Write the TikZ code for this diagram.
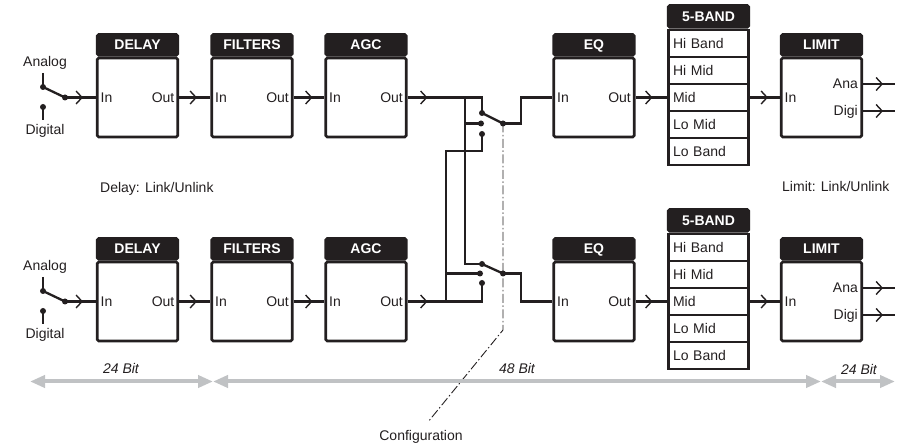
\documentclass[tikz,border=0pt]{standalone}
\usepackage{fontspec}
\setmainfont{Liberation Sans}
\usetikzlibrary{arrows.meta,decorations.markings}
\definecolor{ink}{RGB}{35,31,32}
\definecolor{garc}{RGB}{192,194,196}
\newcommand\mkblock[4]{%
  \node[body] (#1) at (#2,#3) {};
  \node[hdr,anchor=south] (#1-h) at (#1.north) {#4};
  \node[anchor=west] (#1-i) at ([xshift=4.5pt]#1.west) {In};
}
\newcommand\mkout[1]{%
  \node[anchor=east] (#1-o) at ([xshift=-4.5pt]#1.east) {Out};
}
\begin{document}
\begin{tikzpicture}[x=1pt,y=-1pt,
  every node/.style={font=\fontsize{14}{16}\selectfont, inner sep=0pt, text height=10pt, text depth=0pt, text=ink},
  body/.style={draw=ink, line width=2.6pt, minimum width=80.5pt, minimum height=79pt, rounded corners=1.5pt},
  hdr/.style={draw=ink, fill=ink, line width=2.6pt, minimum width=80.5pt, minimum height=21pt, text=white, font=\fontsize{14}{16}\selectfont\bfseries, rounded corners=1.5pt},
  cell/.style={draw=ink, line width=2.6pt, minimum height=27pt, text width=71pt, inner xsep=4.75pt, align=left},
  conn/.style={draw=ink, line width=2.3pt},
  chev/.style={postaction={decorate, decoration={markings, mark=at position #1 with {\arrow{Straight Barb[length=6pt,width=13pt,line width=1.4pt]}}}}},
  gar/.style={draw=garc, line width=4pt, {Triangle[length=15pt,width=12pt]}-{Triangle[length=15pt,width=12pt]}},
  dashdot/.style={draw=ink, line width=0.9pt, dash pattern=on 9pt off 2.5pt on 1.5pt off 2.5pt},
  pin/.style={fill=ink}
]
\useasboundingbox (0,0) rectangle (903,443);

\foreach \i/\yy in {1/97.5,2/301.5}{
  % input selector
  \node (an\i) at (45,\yy-35.5) {Analog};
  \node (dg\i) at (45,\yy+32.5) {Digital};
  \coordinate (it\i) at (43,\yy-24.5);
  \coordinate (ia\i) at (43,\yy-10.5);
  \coordinate (ic\i) at (65,\yy);
  \coordinate (id\i) at (43,\yy+9.5);
  \coordinate (ib\i) at (43,\yy+22.5);
  % blocks
  \mkblock{dl\i}{137.5}{\yy}{DELAY}\mkout{dl\i}
  \mkblock{fl\i}{252}{\yy}{FILTERS}\mkout{fl\i}
  \mkblock{ag\i}{366}{\yy}{AGC}\mkout{ag\i}
  \mkblock{eq\i}{594}{\yy}{EQ}\mkout{eq\i}
  \mkblock{lm\i}{821.5}{\yy}{LIMIT}
  \node[anchor=east] (lm\i-a) at ([xshift=-5pt,yshift=13.5pt]lm\i.east) {Ana};
  \node[anchor=east] (lm\i-d) at ([xshift=-5pt,yshift=-13.5pt]lm\i.east) {Digi};
  \coordinate (ao\i) at (895,\yy-13.5);
  \coordinate (do\i) at (895,\yy+13.5);
  % 5-band
  \node[cell] (hb\i) at (708.5,\yy-54) {Hi Band};
  \node[cell] (hm\i) at (708.5,\yy-27) {Hi Mid};
  \node[cell] (md\i) at (708.5,\yy) {Mid};
  \node[cell] (lmd\i) at (708.5,\yy+27) {Lo Mid};
  \node[cell] (lb\i) at (708.5,\yy+54) {Lo Band};
  \node[hdr,anchor=south,minimum height=22pt] (fb\i) at (hb\i.north) {5-BAND};
  % connectors
  \draw[conn] (it\i) -- (ia\i);
  \draw[conn] (ia\i) -- (ic\i);
  \draw[conn] (id\i) -- (ib\i);
  \fill[pin] (ia\i) circle (3pt);
  \fill[pin] (ic\i) circle (3pt);
  \fill[pin] (id\i) circle (3pt);
  \draw[conn,chev=18pt] (ic\i) -- (dl\i.west);
  \draw[conn,chev=18pt] (dl\i.east) -- (fl\i.west);
  \draw[conn,chev=19pt] (fl\i.east) -- (ag\i.west);
  \draw[conn,chev=17pt] (eq\i.east) -- (md\i.west);
  \draw[conn,chev=18pt] (md\i.east) -- (lm\i.west);
  \draw[conn,chev=20pt] (lm\i-a.east -| lm\i.east) -- (ao\i);
  \draw[conn,chev=20pt] (lm\i-d.east -| lm\i.east) -- (do\i);
}

% crossover switches
\coordinate (s1a) at (482,113);
\coordinate (s1b) at (481,123.5);
\coordinate (s1c) at (482,134);
\coordinate (s1o) at (503,123.5);
\coordinate (s2a) at (482,264);
\coordinate (s2b) at (480,273.5);
\coordinate (s2c) at (482,283);
\coordinate (s2o) at (503,273.5);
\coordinate (ja) at (465,97.5);
\coordinate (k1) at (482,151);
\coordinate (jb) at (446,301.5);

\draw[conn,chev=20pt] (ag1.east) -| (s1a);
\draw[conn] (ja) |- (s2a);
\draw[conn] (ja |- s1b) -- (s1b);
\draw[conn] (s1c) -- (k1) -| (jb);
\draw[conn,chev=20pt] (ag2.east) -| (s2c);
\draw[conn] (jb |- s2b) -- (s2b);
\draw[conn] (s1a) -- (s1o);
\draw[conn] (s2a) -- (s2o);
\draw[conn] (s1o) -- ++(18,0) |- (eq1.west);
\draw[conn] (s2o) -- ++(18,0) |- (eq2.west);
\foreach \p in {s1a,s1b,s1c,s1o,s2a,s2b,s2c,s2o}{\fill[pin] (\p) circle (3pt);}

% configuration link
\coordinate (cb) at (503,330);
\coordinate (ce) at (428,422);
\draw[dashdot] (s1o) -- (s2o) -- (cb) -- (ce);
\node (cfg) at (421,436) {Configuration};

% link labels
\node[anchor=west] (dlk) at (100,188) {Delay: Link/Unlink};
\node[anchor=west] (llk) at (782,187) {Limit: Link/Unlink};

% bit-depth arrows
\coordinate (g0) at (30,381.5);
\coordinate (g1) at (213,381.5);
\coordinate (g2) at (821,381.5);
\coordinate (g3) at (895,381.5);
\draw[gar] (g0) -- (g1);
\draw[gar] (g1) -- (g2);
\draw[gar] (g2) -- (g3);
\node (b1) at (121,369) {\itshape 24 Bit};
\node (b2) at (517,369) {\itshape 48 Bit};
\node (b3) at (859,370) {\itshape 24 Bit};
\end{tikzpicture}
\end{document}
